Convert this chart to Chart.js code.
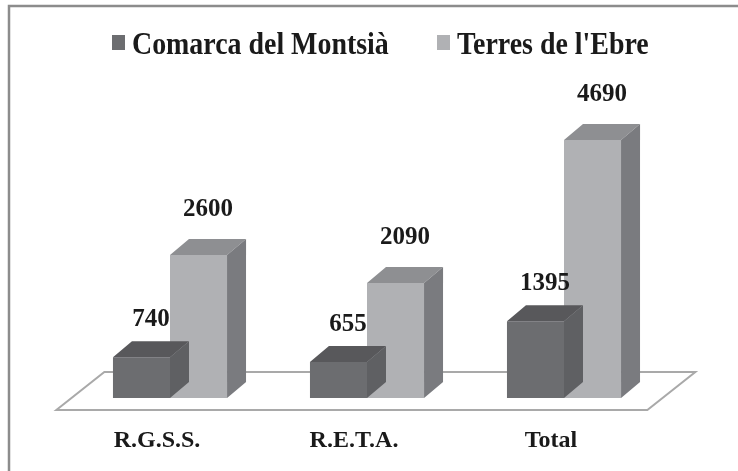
<!DOCTYPE html>
<html>
<head>
<meta charset="utf-8">
<script src="https://cdn.jsdelivr.net/npm/chart.js@4.4.1/dist/chart.umd.min.js"></script>
<style>
  html, body { margin: 0; padding: 0; background: #fff; }
  #wrap { width: 738px; height: 471px; }
</style>
</head>
<body>
<div id="wrap"><canvas id="chart_canvas" width="738" height="471"></canvas></div>
<script>
var categories = ["R.G.S.S.", "R.E.T.A.", "Total"];
var series_names = ["Comarca del Montsià", "Terres de l'Ebre"];
var montsia = [740, 655, 1395];
var ebre = [2600, 2090, 4690];

var serif = "'Liberation Serif', 'Times New Roman', serif";
var depth_x = 19;
var depth_y = 16;

// face colours: front, top, side
var faces = [
    {front: "#6c6d70", top: "#58585b", side: "#5f6063"},
    {front: "#b0b1b4", top: "#8e8f92", side: "#7a7b7f"}
];

var fake3d = {
    id: "fake3d",
    beforeDatasetsDraw: function(chart){
        // floor plate under the bars
        var ctx = chart.ctx;
        var a = chart.chartArea;
        var y0 = chart.scales.y.getPixelForValue(0);
        var k = 48 / 38;
        ctx.save();
        ctx.beginPath();
        ctx.moveTo(a.left - 12 * k, y0 + 12);
        ctx.lineTo(a.right - 12 * k, y0 + 12);
        ctx.lineTo(a.right + 26 * k, y0 - 26);
        ctx.lineTo(a.left + 26 * k, y0 - 26);
        ctx.closePath();
        ctx.fillStyle = "#ffffff";
        ctx.fill();
        ctx.strokeStyle = "#a9a9a9";
        ctx.lineWidth = 2;
        ctx.stroke();
        ctx.restore();
    },
    afterDatasetDraw: function(chart, args){
        var ctx = chart.ctx;
        var meta = chart.getDatasetMeta(args.index);
        var col = faces[args.index];
        ctx.save();
        meta.data.forEach(function(bar){
            var l = bar.x - bar.width / 2;
            var r = bar.x + bar.width / 2;
            var t = bar.y;
            var b = bar.base;
            // top face
            ctx.beginPath();
            ctx.moveTo(l, t);
            ctx.lineTo(r, t);
            ctx.lineTo(r + depth_x, t - depth_y);
            ctx.lineTo(l + depth_x, t - depth_y);
            ctx.closePath();
            ctx.fillStyle = col.top;
            ctx.fill();
            // side face
            ctx.beginPath();
            ctx.moveTo(r, t);
            ctx.lineTo(r + depth_x, t - depth_y);
            ctx.lineTo(r + depth_x, b - depth_y);
            ctx.lineTo(r, b);
            ctx.closePath();
            ctx.fillStyle = col.side;
            ctx.fill();
        });
        ctx.restore();
    },
    afterDatasetsDraw: function(chart){
        var ctx = chart.ctx;
        var lift = [31, 39];
        ctx.save();
        ctx.font = "bold 25px " + serif;
        ctx.fillStyle = "#1a1a1a";
        ctx.textAlign = "center";
        ctx.textBaseline = "alphabetic";
        chart.data.datasets.forEach(function(ds, i){
            chart.getDatasetMeta(i).data.forEach(function(bar, j){
                ctx.fillText(String(ds.data[j]), bar.x + depth_x / 2, bar.y - lift[i]);
            });
        });
        ctx.restore();
    },
    afterDraw: function(chart){
        var ctx = chart.ctx;
        ctx.save();
        // frame
        ctx.strokeStyle = "#8c8c8c";
        ctx.lineWidth = 2.5;
        ctx.beginPath();
        ctx.moveTo(9, 471);
        ctx.lineTo(9, 6);
        ctx.lineTo(738, 6);
        ctx.stroke();
        // legend
        var items = [
            {x: 112, text: series_names[0], color: faces[0].front},
            {x: 437, text: series_names[1], color: faces[1].front}
        ];
        ctx.font = "bold 31px " + serif;
        ctx.textBaseline = "alphabetic";
        items.forEach(function(it){
            ctx.fillStyle = it.color;
            ctx.fillRect(it.x, 35, 13, 15);
            ctx.save();
            ctx.translate(it.x + 20, 54);
            ctx.scale(0.9, 1);
            ctx.fillStyle = "#1a1a1a";
            ctx.fillText(it.text, 0, 0);
            ctx.restore();
        });
        ctx.restore();
    }
};

function init_chart(){
    var ctx = document.getElementById('chart_canvas').getContext('2d');
    new Chart(ctx, {
        type: 'bar',
        data: {
            labels: categories,
            datasets: [{
                label: series_names[0],
                data: montsia,
                backgroundColor: faces[0].front,
                borderWidth: 0
            },{
                label: series_names[1],
                data: ebre,
                backgroundColor: faces[1].front,
                borderWidth: 0
            }]
        },
        options: {
            responsive: false,
            animation: false,
            devicePixelRatio: 1,
            layout: {padding: {left: 71.5, right: 75.5, top: 123, bottom: 16}},
            datasets: {bar: {barPercentage: 1, categoryPercentage: 0.579}},
            plugins: {
                legend: {display: false},
                tooltip: {enabled: false}
            },
            scales: {
                x: {
                    grid: {display: false, drawTicks: false},
                    border: {display: false},
                    afterFit: function(scale){ scale.height = 57; },
                    ticks: {
                        padding: 28,
                        labelOffset: -13,
                        color: "#1a1a1a",
                        font: {family: serif, size: 24, weight: "bold"}
                    }
                },
                y: {
                    display: false,
                    min: 0,
                    max: 5000
                }
            }
        },
        plugins: [fake3d]
    });
}

init_chart();
</script>
</body>
</html>
